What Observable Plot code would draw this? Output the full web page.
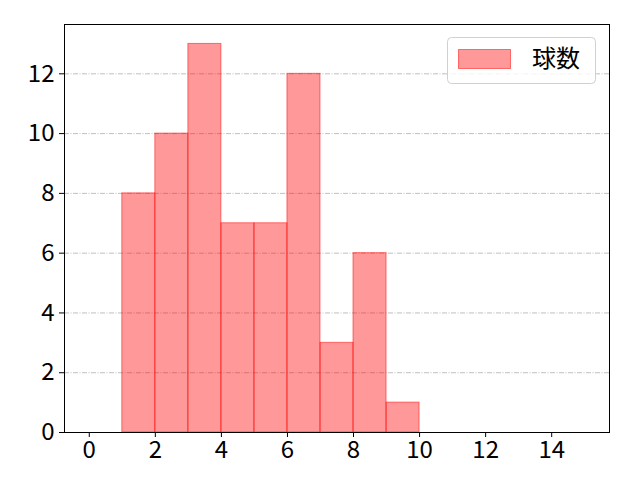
<!DOCTYPE html>
<html><head><meta charset="utf-8">
<script src="https://cdn.jsdelivr.net/npm/d3@7"></script>
<script src="https://cdn.jsdelivr.net/npm/@observablehq/plot@0.6"></script>
<style>body{margin:0;background:#fff}svg{display:block}</style>
</head><body><div id="chart"></div>
<script>
const binStarts = [1, 2, 3, 4, 5, 6, 7, 8, 9];
const binEnds   = [2, 3, 4, 5, 6, 7, 8, 9, 10];
const counts    = [8, 10, 13, 7, 7, 12, 3, 6, 1];
const xTicks = [0, 2, 4, 6, 8, 10, 12, 14];
const yTicks = [0, 2, 4, 6, 8, 10, 12];
const gridTicks = [2, 4, 6, 8, 10, 12];
const seriesName = "球数";

const data = binStarts.map((s, i) => ({x1: s, x2: binEnds[i], y: counts[i]}));
const font = "'Noto Sans CJK JP', sans-serif";

const chart = Plot.plot({
  width: 640, height: 480,
  marginLeft: 64, marginRight: 31, marginTop: 24, marginBottom: 48,
  style: {fontFamily: font, fontSize: "24px", color: "#000", background: "#fff"},
  x: {domain: [-0.75, 15.75]},
  y: {domain: [0, 13.65]},
  marks: [
    Plot.ruleY(gridTicks, {stroke: "#b0b0b0", strokeWidth: 0.8, strokeDasharray: "5,1.5,1,1.5"}),
    Plot.rectY(data, {x1: "x1", x2: "x2", y: "y", fill: "#ff0000", fillOpacity: 0.4, stroke: "#ff0000", strokeOpacity: 0.5, strokeWidth: 1, inset: 0}),
    Plot.axisX({ticks: xTicks, tickSize: 5, tickPadding: 3, label: null, strokeWidth: 1, fontSize: 24}),
    Plot.axisY({ticks: yTicks, tickSize: 5, tickPadding: 5, label: null, strokeWidth: 1, fontSize: 24}),
    Plot.frame({stroke: "#000", strokeWidth: 1})
  ]
});
document.getElementById("chart").appendChild(chart);
const svg = d3.select(chart);
svg.selectAll("text").style("font-size", "24px").style("font-family", font);

// legend
const g = svg.append("g");
g.append("rect").attr("x", 447.5).attr("y", 37.5).attr("width", 148).attr("height", 46).attr("rx", 4)
  .attr("fill", "#fff").attr("fill-opacity", 0.8).attr("stroke", "#d0d0d0").attr("stroke-width", 1);
g.append("rect").attr("x", 458.5).attr("y", 49.5).attr("width", 52).attr("height", 19)
  .attr("fill", "#ff0000").attr("fill-opacity", 0.4).attr("stroke", "#ff0000").attr("stroke-opacity", 0.5);
g.append("text").attr("x", 532).attr("y", 59).attr("dy", "0.35em")
  .attr("text-anchor", "start").style("font-size", "24px")
  .style("font-family", font).attr("fill", "#000").text(seriesName);
</script></body></html>
